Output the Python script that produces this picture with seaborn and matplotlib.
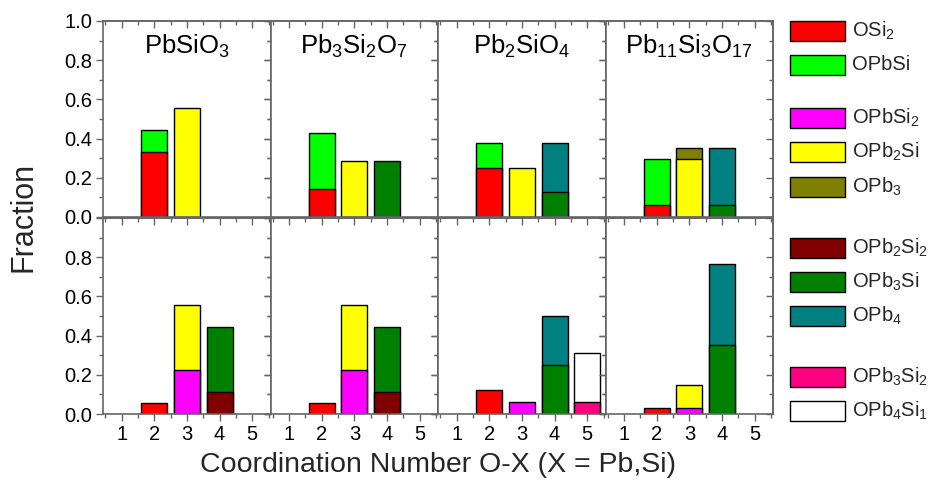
import numpy as np
import pandas as pd
import matplotlib
matplotlib.use("Agg")
import matplotlib.pyplot as plt
from matplotlib.patches import Rectangle
from matplotlib.ticker import MultipleLocator, NullFormatter
import seaborn as sns

sns.set_theme(style="white")
plt.rcParams["font.family"] = ["Liberation Sans", "DejaVu Sans"]
plt.rcParams["mathtext.fontset"] = "custom"
plt.rcParams["mathtext.rm"] = "Liberation Sans"
plt.rcParams["mathtext.it"] = "Liberation Sans:italic"
plt.rcParams["mathtext.bf"] = "Liberation Sans:bold"

# ---------------- data ----------------
panels = ["PbSiO$_3$", "Pb$_3$Si$_2$O$_7$", "Pb$_2$SiO$_4$", "Pb$_{11}$Si$_3$O$_{17}$"]
cn_ticks = [1, 2, 3, 4, 5]

species = ["OSi$_2$", "OPbSi", "OPbSi$_2$", "OPb$_2$Si", "OPb$_3$",
           "OPb$_2$Si$_2$", "OPb$_3$Si", "OPb$_4$", "OPb$_3$Si$_2$", "OPb$_4$Si$_1$"]
species_cn = [2, 2, 3, 3, 3, 4, 4, 4, 5, 5]
colors = ["#FF0000", "#00FF00", "#FF00FF", "#FFFF00", "#808000",
          "#800000", "#008000", "#008080", "#FF0080", "#FFFFFF"]

# values per panel (PbSiO3, Pb3Si2O7, Pb2SiO4, Pb11Si3O17)
top_OSi2    = [0.333, 0.143, 0.250, 0.059]
top_OPbSi   = [0.111, 0.286, 0.125, 0.235]
top_OPbSi2  = [0.0, 0.0, 0.0, 0.0]
top_OPb2Si  = [0.556, 0.286, 0.250, 0.294]
top_OPb3    = [0.0, 0.0, 0.0, 0.059]
top_OPb2Si2 = [0.0, 0.0, 0.0, 0.0]
top_OPb3Si  = [0.0, 0.286, 0.125, 0.059]
top_OPb4    = [0.0, 0.0, 0.250, 0.294]
top_OPb3Si2 = [0.0, 0.0, 0.0, 0.0]
top_OPb4Si1 = [0.0, 0.0, 0.0, 0.0]

bot_OSi2    = [0.056, 0.056, 0.125, 0.029]
bot_OPbSi   = [0.0, 0.0, 0.0, 0.0]
bot_OPbSi2  = [0.222, 0.222, 0.0625, 0.029]
bot_OPb2Si  = [0.333, 0.333, 0.0, 0.118]
bot_OPb3    = [0.0, 0.0, 0.0, 0.0]
bot_OPb2Si2 = [0.111, 0.111, 0.0, 0.0]
bot_OPb3Si  = [0.333, 0.333, 0.250, 0.353]
bot_OPb4    = [0.0, 0.0, 0.250, 0.412]
bot_OPb3Si2 = [0.0, 0.0, 0.0625, 0.0]
bot_OPb4Si1 = [0.0, 0.0, 0.250, 0.0]

top_rows = [top_OSi2, top_OPbSi, top_OPbSi2, top_OPb2Si, top_OPb3,
            top_OPb2Si2, top_OPb3Si, top_OPb4, top_OPb3Si2, top_OPb4Si1]
bot_rows = [bot_OSi2, bot_OPbSi, bot_OPbSi2, bot_OPb2Si, bot_OPb3,
            bot_OPb2Si2, bot_OPb3Si, bot_OPb4, bot_OPb3Si2, bot_OPb4Si1]

records = []
for r, rows in enumerate([top_rows, bot_rows]):
    for p in range(len(panels)):
        cum = {}
        for s, sp in enumerate(species):
            v = rows[s][p]
            c = species_cn[s]
            cum[c] = cum.get(c, 0.0) + v
            records.append(dict(row=r, panel=p, species=sp, cn=c, value=v, top=cum[c]))
df = pd.DataFrame(records)

# ---------------- figure ----------------
W, H = 930, 490
fig = plt.figure(figsize=(W / 100, H / 100), dpi=100)
spine_col = "#666666"
palette = dict(zip(species, colors))

left0 = 103
pw = 167.5
rows_px = [(21, 217), (218, 414)]


def style_ticks(a, direction):
    a.tick_params(axis="both", which="both", color=spine_col, direction=direction)
    a.tick_params(which="major", length=5, width=1.0)
    a.tick_params(which="minor", length=3, width=1.0)


for r in range(2):
    y0, y1 = rows_px[r]
    for p in range(4):
        ax = fig.add_axes([(left0 + p * pw) / W, 1 - y1 / H, pw / W, (y1 - y0) / H])
        sub = df[(df.row == r) & (df.panel == p) & (df.value > 0)]
        order = [s for s in species[::-1] if s in set(sub.species)]
        sns.barplot(data=sub, x="cn", y="top", hue="species", hue_order=order,
                    palette=palette, dodge=False, native_scale=True, width=0.8,
                    edgecolor="black", linewidth=1.0, saturation=1, errorbar=None,
                    legend=False, ax=ax)
        ax.set_xlim(0.43, 5.56)
        ax.set_ylim(0, 1.0)
        ax.set_xlabel("")
        ax.set_ylabel("")
        for s in ax.spines.values():
            s.set_color(spine_col)
            s.set_linewidth(1.2)
        ax.xaxis.set_major_locator(MultipleLocator(1))
        ax.xaxis.set_minor_locator(MultipleLocator(0.5))
        ax.yaxis.set_major_locator(MultipleLocator(0.2))
        ax.yaxis.set_minor_locator(MultipleLocator(0.1))
        ax.tick_params(axis="both", which="both", bottom=True, left=True,
                       top=False, right=False, labelsize=14.5, labelcolor="black", pad=3)
        style_ticks(ax, "out")

        # inward ticks on top and right sides
        sx = ax.secondary_xaxis("top")
        sy = ax.secondary_yaxis("right")
        for sec, axis in ((sx, sx.xaxis), (sy, sy.yaxis)):
            axis.set_major_locator(MultipleLocator(1 if sec is sx else 0.2))
            axis.set_minor_locator(MultipleLocator(0.5 if sec is sx else 0.1))
            axis.set_major_formatter(NullFormatter())
            style_ticks(sec, "in")
            for s in sec.spines.values():
                s.set_color(spine_col)
                s.set_linewidth(1.2)

        if r == 1:
            ax.set_xticks(cn_ticks)
            ax.set_xticklabels([str(c) for c in cn_ticks])
        else:
            ax.tick_params(axis="x", labelbottom=False)
        if p == 0:
            ax.set_yticks([0, 0.2, 0.4, 0.6, 0.8, 1.0])
            if r == 0:
                ax.set_yticklabels(["0.0", "0.2", "0.4", "0.6", "0.8", "1.0"])
            else:
                ax.set_yticklabels(["0.0", "0.2", "0.4", "0.6", "0.8", ""])
        else:
            ax.tick_params(axis="y", labelleft=False)
        if r == 0:
            ax.text(0.5, 0.87, panels[p], transform=ax.transAxes, ha="center",
                    va="center", fontsize=18.5, color="black")

fig.text(23 / W, 1 - 217 / H, "Fraction", rotation=90, ha="center", va="center",
         fontsize=22)
fig.text((left0 + 2 * pw) / W, 1 - 465 / H, "Coordination Number O-X (X = Pb,Si)",
         ha="center", va="center", fontsize=20.5)

# legend
leg_y = [31, 65, 118, 152, 187, 248, 282, 316, 377, 411]
for sp, col, yc in zip(species, colors, leg_y):
    fig.patches.append(Rectangle((790 / W, 1 - (yc + 10) / H), 55 / W, 20 / H,
                                 transform=fig.transFigure, facecolor=col,
                                 edgecolor="black", linewidth=1.0))
    fig.text(852 / W, 1 - yc / H, sp, ha="left", va="center", fontsize=14.5)

fig.savefig("out.png", dpi=100)
